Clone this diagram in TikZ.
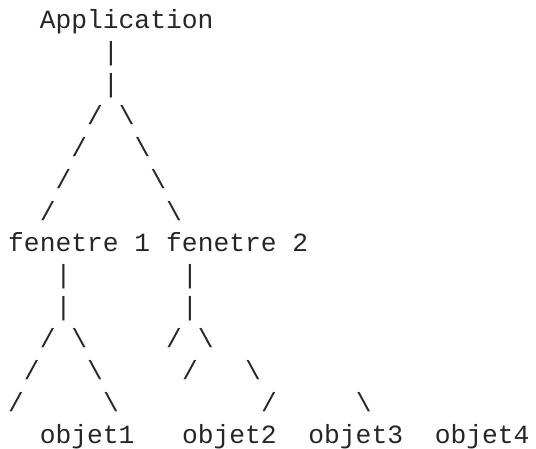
\documentclass[tikz,border=0pt]{standalone}
\usepackage{fontspec}
\newfontfamily\asciifont{Liberation Mono}
\usepackage{xcolor}

\begin{document}
\begin{tikzpicture}[x=15.8pt, y=-31.85pt,
    ascii/.style={font=\asciifont\fontsize{26.3pt}{31.85pt}\selectfont, text=black!85, inner sep=0pt, anchor=base west}]
    \useasboundingbox (-8pt,29pt) rectangle (528pt,-420pt);
    % racine
    \node[ascii] (app) at (2,0) {Application};
    \node[ascii] (appA) at (6,1) {|};
    \node[ascii] (appB) at (6,2) {|};
    \node[ascii] (appL1) at (5,3) {/};
    \node[ascii] (appR1) at (7,3) {\textbackslash};
    \node[ascii] (appL2) at (4,4) {/};
    \node[ascii] (appR2) at (8,4) {\textbackslash};
    \node[ascii] (appL3) at (3,5) {/};
    \node[ascii] (appR3) at (9,5) {\textbackslash};
    \node[ascii] (appL4) at (2,6) {/};
    \node[ascii] (appR4) at (10,6) {\textbackslash};
    % fenetres
    \node[ascii] (fen1) at (0,7) {fenetre 1};
    \node[ascii] (fen2) at (10,7) {fenetre 2};
    \node[ascii] (fen1A) at (3,8) {|};
    \node[ascii] (fen2A) at (11,8) {|};
    \node[ascii] (fen1B) at (3,9) {|};
    \node[ascii] (fen2B) at (11,9) {|};
    \node[ascii] (fen1L1) at (2,10) {/};
    \node[ascii] (fen1R1) at (4,10) {\textbackslash};
    \node[ascii] (fen2L1) at (10,10) {/};
    \node[ascii] (fen2R1) at (12,10) {\textbackslash};
    \node[ascii] (fen1L2) at (1,11) {/};
    \node[ascii] (fen1R2) at (5,11) {\textbackslash};
    \node[ascii] (fen2L2) at (11,11) {/};
    \node[ascii] (fen2R2) at (15,11) {\textbackslash};
    \node[ascii] (fen1L3) at (0,12) {/};
    \node[ascii] (fen1R3) at (6,12) {\textbackslash};
    \node[ascii] (fen2L3) at (16,12) {/};
    \node[ascii] (fen2R3) at (22,12) {\textbackslash};
    % objets
    \node[ascii] (obj1) at (2,13) {objet1};
    \node[ascii] (obj2) at (11,13) {objet2};
    \node[ascii] (obj3) at (19,13) {objet3};
    \node[ascii] (obj4) at (27,13) {objet4};
\end{tikzpicture}
\end{document}
